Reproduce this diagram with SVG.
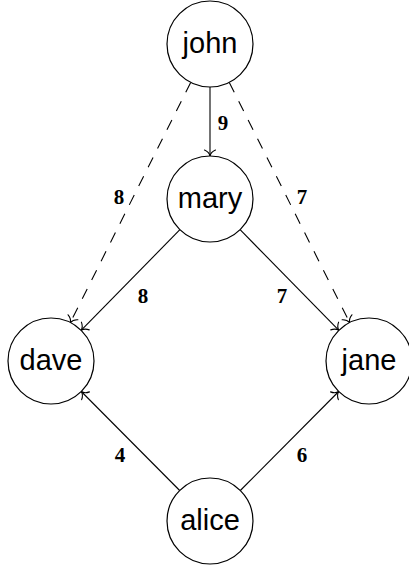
<svg xmlns="http://www.w3.org/2000/svg" width="409" height="566" viewBox="0 0 409 566">
<style>
.node circle{fill:#fff;stroke:#000;stroke-width:1.2}
.node text{font-family:"Liberation Sans",Arial,sans-serif;font-size:29px;text-anchor:middle;fill:#000}
.edge{stroke:#000;stroke-width:1.1;fill:none;marker-end:url(#to)}
.dash{stroke-dasharray:11 10}
.lbl{font-family:"Liberation Serif","Times New Roman",serif;font-weight:bold;font-size:21px;text-anchor:middle;fill:#000}
</style>
<defs>
<marker id="to" viewBox="-8 -7 10 14" markerWidth="10" markerHeight="14" refX="0" refY="0" orient="auto" markerUnits="userSpaceOnUse">
<path d="M-6,-5.5 C-4.5,-2 -2,-0.5 0,0 C-2,0.5 -4.5,2 -6,5.5" fill="none" stroke="#000" stroke-width="1.1" stroke-linecap="round"/>
</marker>
</defs>
<rect width="409" height="566" fill="#fff"/>
<g id="connectors">
<line class="edge" x1="210" y1="87" x2="210" y2="156"/>
<line class="edge dash" x1="190.7" y1="82.4" x2="70.3" y2="322.6"/>
<line class="edge dash" x1="229.3" y1="82.4" x2="349.7" y2="322.6"/>
<line class="edge" x1="179.9" y1="229.7" x2="81.1" y2="330.3"/>
<line class="edge" x1="240.1" y1="229.7" x2="338.9" y2="330.3"/>
<line class="edge" x1="179.7" y1="490.5" x2="81.3" y2="391.5"/>
<line class="edge" x1="240.3" y1="490.5" x2="338.7" y2="391.5"/>
<text class="lbl" x="223" y="130">9</text>
<text class="lbl" x="119" y="204">8</text>
<text class="lbl" x="302" y="204">7</text>
<text class="lbl" x="143" y="303">8</text>
<text class="lbl" x="282" y="303">7</text>
<text class="lbl" x="120" y="462">4</text>
<text class="lbl" x="302" y="462">6</text>
</g>
<g id="john" class="node"><circle cx="210" cy="44" r="43"/><text x="210" y="53">john</text></g>
<g id="mary" class="node"><circle cx="210" cy="199" r="43"/><text x="210" y="208">mary</text></g>
<g id="dave" class="node"><circle cx="51" cy="361" r="43"/><text x="51" y="370">dave</text></g>
<g id="jane" class="node"><circle cx="369" cy="361" r="43"/><text x="369" y="370">jane</text></g>
<g id="alice" class="node"><circle cx="210" cy="521" r="43"/><text x="210" y="530">alice</text></g>
</svg>
